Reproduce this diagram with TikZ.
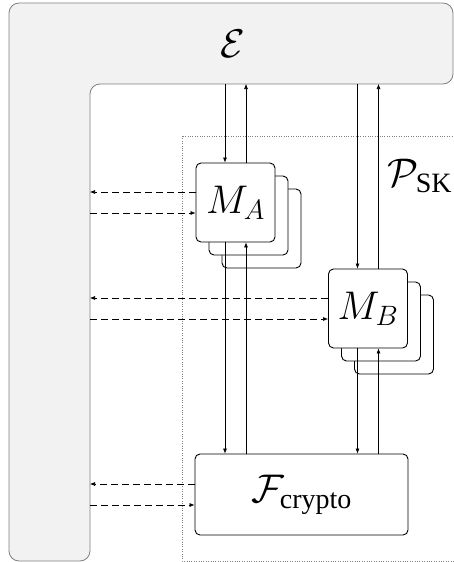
\RequirePackage{fix-cm}
\documentclass[tikz,border=0pt]{standalone}
\usepackage{amsmath}
\usepackage{fontspec}
\setmainfont{Liberation Serif}
\usetikzlibrary{arrows.meta}
\tikzstyle{envshape}=[
    draw=gray, fill=black!5,
    line width=0.8pt,
    rounded corners=10pt,
]
\tikzstyle{bigtext}=[font=\fontsize{40}{44}\selectfont]
\tikzstyle{protobox}=[
    bigtext,
    draw, fill=white,
    line width=0.9pt,
    rounded corners=5pt,
    minimum width=79pt, minimum height=79pt,
    inner sep=0pt,
]
\tikzstyle{msg}=[
    ->, >={Latex[length=5pt,width=4pt]},
    line width=0.6pt,
]
\tikzstyle{leak}=[msg, dash pattern=on 7pt off 4pt]

\begin{document}
\begin{tikzpicture}[x=1pt,y=-1pt]
    \useasboundingbox (0,0) rectangle (454,562);
    % environment
    \draw[envshape] (9,561) -- (9,3) -- (453,3) -- (453,84) -- (90,84) -- (90,561) -- cycle;
    \coordinate (envin) at (90,84);
    \node (env) at (233,44) [bigtext] {$\mathcal{E}$};
    % protocol
    \draw[gray, dotted] (182,136) rectangle (480,561);
    \node (psk) at (420,176) [bigtext] {$\mathcal{P}_{\text{SK}}$};
    \node (ma3) at (261.5,228.5) [protobox] {};
    \node (ma2) at (248.5,215.5) [protobox] {};
    \node (ma) at (235.5,202.5) [protobox] {$M_A$};
    \node (mb3) at (394,334.5) [protobox] {};
    \node (mb2) at (381,321.5) [protobox] {};
    \node (mb) at (368,308.5) [protobox] {$M_B$};
    \node (fc) at (301.5,494.5) [protobox, minimum width=213pt, minimum height=81pt] {$\mathcal{F}_{\text{crypto}}$};
    % messages
    \foreach \m in {ma,mb} {
        \draw[msg] ([xshift=-10.5pt]\m.north |- envin) -- ([xshift=-10.5pt]\m.north);
        \draw[msg] ([xshift=10.5pt]\m.north) -- ([xshift=10.5pt]\m.north |- envin);
        \draw[msg] ([xshift=-10.5pt]\m.south) -- ([xshift=-10.5pt]\m.south |- fc.north);
        \draw[msg] ([xshift=10.5pt]\m.south |- fc.north) -- ([xshift=10.5pt]\m.south);
    }
    \foreach \m in {ma,mb,fc} {
        \draw[leak] ([yshift=10.5pt]\m.west) -- ([yshift=10.5pt]\m.west -| envin);
        \draw[leak] ([yshift=-10.5pt]\m.west -| envin) -- ([yshift=-10.5pt]\m.west);
    }
\end{tikzpicture}
\end{document}
